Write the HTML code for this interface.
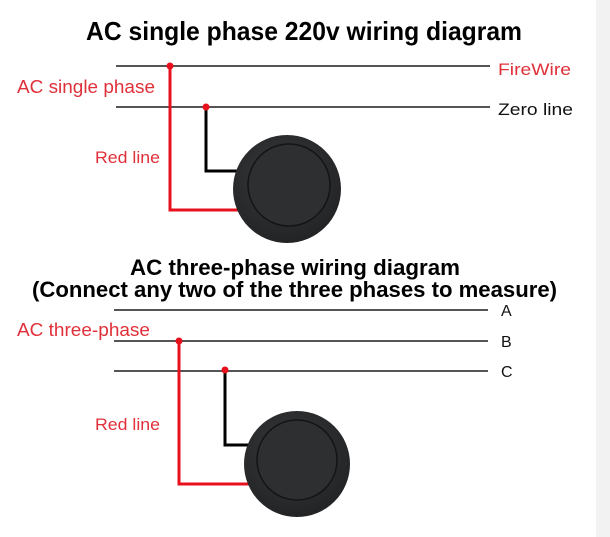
<!DOCTYPE html>
<html><head><style>
html,body{margin:0;padding:0;background:#fff;}
svg{display:block;}
text{font-family:"Liberation Sans",sans-serif;}
</style></head><body>
<svg width="610" height="537" viewBox="0 0 610 537" xmlns="http://www.w3.org/2000/svg">
<defs>
<radialGradient id="g" cx="0.45" cy="0.4" r="0.7">
<stop offset="0" stop-color="#3a3b3d"/><stop offset="1" stop-color="#1f2022"/>
</radialGradient>
</defs>
<rect x="0" y="0" width="610" height="537" fill="#fff"/>
<rect x="596" y="0" width="14" height="537" fill="#f2f2f2"/>
<text x="86" y="40" font-size="26" font-weight="bold" textLength="436" lengthAdjust="spacingAndGlyphs">AC single phase 220v wiring diagram</text>
<line x1="116" y1="66" x2="490" y2="66" stroke="#555" stroke-width="2"/>
<line x1="116" y1="107" x2="490" y2="107" stroke="#555" stroke-width="2"/>
<text x="498" y="75" font-size="17" fill="#e0303a" textLength="73" lengthAdjust="spacingAndGlyphs">FireWire</text>
<text x="498" y="115" font-size="17" fill="#111" textLength="75" lengthAdjust="spacingAndGlyphs">Zero line</text>
<text x="17" y="93" font-size="18" fill="#e0303a" textLength="138" lengthAdjust="spacingAndGlyphs">AC single phase</text>
<text x="95" y="163" font-size="17" fill="#e0303a" textLength="65" lengthAdjust="spacingAndGlyphs">Red line</text>
<polyline points="170,66 170,210 240,210" fill="none" stroke="#e8101c" stroke-width="3"/>
<polyline points="206,107 206,171 240,171" fill="none" stroke="#000" stroke-width="3"/>
<circle cx="170" cy="66" r="3.5" fill="#e8101c"/>
<circle cx="206" cy="107" r="3.5" fill="#e8101c"/>
<circle cx="287" cy="189" r="54" fill="url(#g)"/>
<circle cx="289" cy="185" r="41" fill="#2e2f31" stroke="#141414" stroke-width="1.5"/>
<text x="130" y="275" font-size="22" font-weight="bold" textLength="330" lengthAdjust="spacingAndGlyphs">AC three-phase wiring diagram</text>
<text x="32" y="297" font-size="22" font-weight="bold" textLength="525" lengthAdjust="spacingAndGlyphs">(Connect any two of the three phases to measure)</text>
<line x1="114" y1="310" x2="488" y2="310" stroke="#555" stroke-width="2"/>
<line x1="114" y1="341" x2="488" y2="341" stroke="#555" stroke-width="2"/>
<line x1="114" y1="371" x2="488" y2="371" stroke="#555" stroke-width="2"/>
<text x="501" y="316" font-size="16" font-weight="500" fill="#111">A</text>
<text x="501" y="347" font-size="16" font-weight="500" fill="#111">B</text>
<text x="501" y="377" font-size="16" font-weight="500" fill="#111">C</text>
<text x="17" y="336" font-size="18" fill="#e0303a" textLength="133" lengthAdjust="spacingAndGlyphs">AC three-phase</text>
<text x="95" y="430" font-size="17" fill="#e0303a" textLength="65" lengthAdjust="spacingAndGlyphs">Red line</text>
<polyline points="179,341 179,484 250,484" fill="none" stroke="#e8101c" stroke-width="3"/>
<polyline points="225,370 225,445 250,445" fill="none" stroke="#000" stroke-width="3"/>
<circle cx="179" cy="341" r="3.5" fill="#e8101c"/>
<circle cx="225" cy="370" r="3.5" fill="#e8101c"/>
<circle cx="297" cy="464" r="53" fill="url(#g)"/>
<circle cx="297" cy="460" r="40" fill="#2e2f31" stroke="#141414" stroke-width="1.5"/>
</svg>
</body></html>
